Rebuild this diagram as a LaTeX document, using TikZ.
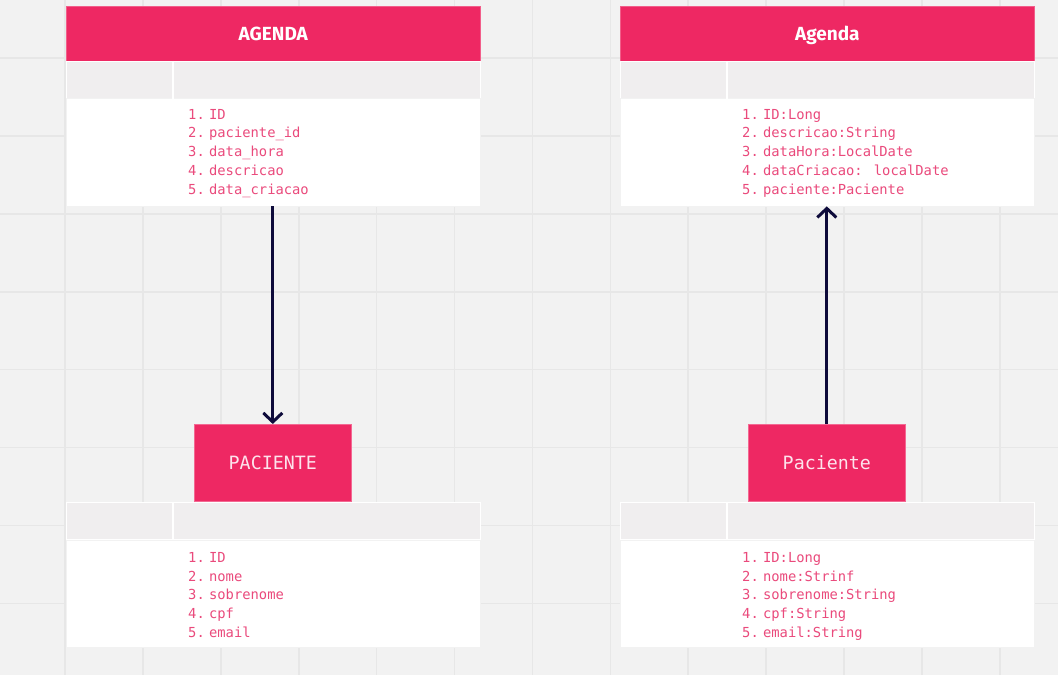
\documentclass[tikz,border=0pt]{standalone}
\usepackage{fontspec}
\usetikzlibrary{arrows.meta}
\newfontfamily\monof{DejaVu Sans Mono}
\newfontfamily\headf{Fira Sans}
\definecolor{bg}{HTML}{F2F2F2}
\definecolor{gridc}{HTML}{E7E7E7}
\definecolor{pinkh}{HTML}{EE2863}
\definecolor{pinkt}{HTML}{EA4A7C}
\definecolor{greyrow}{HTML}{F0EEEF}
\definecolor{navy}{HTML}{0E0B3B}
\definecolor{boxtxt}{HTML}{FDE3EC}
\begin{document}
\begin{tikzpicture}[x=1bp,y=-1bp,
  headbox/.style={fill=pinkh, draw=pinkh!75!white, line width=0.6bp, minimum width=414bp, minimum height=55bp, anchor=north west, inner sep=0pt, text=white, text height=13.1bp, text depth=0pt, font=\headf\bfseries\fontsize{19bp}{22bp}\selectfont},
  rowbox/.style={fill=greyrow, draw=white, line width=0.6bp, minimum width=414bp, minimum height=37bp, anchor=north west, inner sep=0pt},
  bodybox/.style={fill=white, draw=white!95!black, line width=0.4bp, minimum width=414bp, minimum height=108bp, anchor=north west, inner sep=0pt},
  divider/.style={draw=white, line width=1.6bp},
  listtxt/.style={anchor=base west, inner sep=0pt, text=pinkt, font=\monof\fontsize{13.8bp}{18.7bp}\selectfont},
  entbox/.style={fill=pinkh, draw=pinkh!70!white, line width=0.6bp, minimum width=157bp, minimum height=77bp, anchor=north west, inner sep=0pt, text=boxtxt, text height=13.3bp, text depth=0pt, font=\monof\fontsize{18.3bp}{22bp}\selectfont},
  conn/.style={draw=navy, line width=3bp, -{Straight Barb[length=9bp,width=19bp]}},
  gridline/.style={draw=gridc, line width=1.6bp}
]
\useasboundingbox (0,0) rectangle (1058,675);
\fill[bg] (0,0) rectangle (1058,675);
% grid
\foreach \k in {0,...,12}{\draw[gridline] ({65+77.9*\k},0) -- ({65+77.9*\k},675);}
\foreach \k in {0,...,7}{\draw[gridline] (0,{58+77.9*\k}) -- (1058,{58+77.9*\k});}

% ---- left top table: AGENDA
\node[headbox] (agH) at (66,6) {AGENDA};
\node[rowbox] (agR) at (66,61) {};
\node[bodybox] (agB) at (66,98) {};
\draw[divider] ([xshift=107bp]agR.north west) -- ([xshift=107bp]agR.south west);
\node[listtxt] (agL) at (188,119.3) {\begin{tabular}[t]{@{}r@{\hspace{4.3bp}}l@{}}1.&ID\\2.&paciente\_id\\3.&data\_hora\\4.&descricao\\5.&data\_criacao\end{tabular}};

% ---- right top table: Agenda
\node[headbox] (agH2) at (620,6) {Agenda};
\node[rowbox] (agR2) at (620,61) {};
\node[bodybox] (agB2) at (620,98) {};
\draw[divider] ([xshift=107bp]agR2.north west) -- ([xshift=107bp]agR2.south west);
\node[listtxt] (agL2) at (742,119.3) {\begin{tabular}[t]{@{}r@{\hspace{4.3bp}}l@{}}1.&ID:Long\\2.&descricao:String\\3.&dataHora:LocalDate\\4.&dataCriacao: localDate\\5.&paciente:Paciente\end{tabular}};

% ---- left bottom table
\node[rowbox] (paR) at (66,502) {};
\node[bodybox, minimum height=107bp] (paB) at (66,540) {};
\draw[divider] ([xshift=107bp]paR.north west) -- ([xshift=107bp]paR.south west);
\node[listtxt] (paL) at (188,562.3) {\begin{tabular}[t]{@{}r@{\hspace{4.3bp}}l@{}}1.&ID\\2.&nome\\3.&sobrenome\\4.&cpf\\5.&email\end{tabular}};

% ---- right bottom table
\node[rowbox] (paR2) at (620,502) {};
\node[bodybox, minimum height=107bp] (paB2) at (620,540) {};
\draw[divider] ([xshift=107bp]paR2.north west) -- ([xshift=107bp]paR2.south west);
\node[listtxt] (paL2) at (742,562.3) {\begin{tabular}[t]{@{}r@{\hspace{4.3bp}}l@{}}1.&ID:Long\\2.&nome:Strinf\\3.&sobrenome:String\\4.&cpf:String\\5.&email:String\end{tabular}};

% ---- entity boxes
\node[entbox] (pac1) at (194,424) {PACIENTE};
\node[entbox] (pac2) at (748,424) {Paciente};

% ---- connectors
\draw[conn] (agB.south -| pac1.north) -- (pac1.north);
\draw[conn] (pac2.north) -- (agB2.south -| pac2.north);
\end{tikzpicture}
\end{document}
